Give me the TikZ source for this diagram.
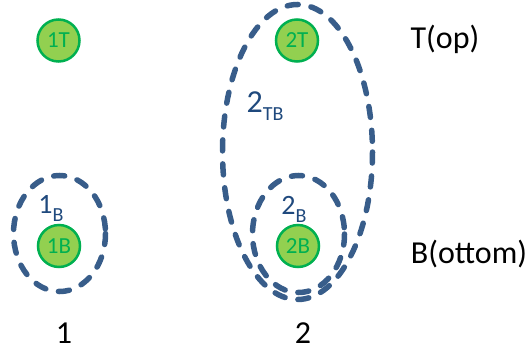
\documentclass[tikz,border=0pt]{standalone}
\usepackage{fontspec}
\setmainfont{Carlito}
\usetikzlibrary{positioning}
\definecolor{leafgreen}{HTML}{92D050}
\definecolor{rimgreen}{HTML}{00B050}
\definecolor{grpblue}{HTML}{385D8A}
\definecolor{labblue}{HTML}{1F497D}
\newcommand{\bigfont}{\fontsize{32}{36}\selectfont}
\newcommand{\subfont}{\fontsize{28}{30}\selectfont}
\newcommand{\lowsub}[1]{\raisebox{-8pt}{\fontsize{20}{22}\selectfont #1}}

\begin{document}
\begin{tikzpicture}[x=1pt,y=-1pt,
    vertex/.style={circle,fill=leafgreen,draw=rimgreen,line width=2.5pt,minimum size=42pt,inner sep=0pt,text=rimgreen,font=\fontsize{23}{26}\selectfont},
    grp/.style={draw=grpblue,line width=5.5pt,line cap=round,dash pattern=on 11pt off 13pt},
    lab/.style={anchor=base,font=\bigfont},
    grplab/.style={anchor=base,text=labblue,font=\subfont}]
  \useasboundingbox (0,0) rectangle (530,354);

  \node[vertex] (top1) at (58.5,40.5) {1T};
  \node[vertex] (bot1) at (59,246)   {1B};
  \node[vertex] (top2) at (297,40.5) {2T};
  \node[vertex] (bot2) at (298,246)  {2B};

  \draw[grp] (59.5,233.5)  ellipse [x radius=46, y radius=58];
  \draw[grp] (298.5,234)   ellipse [x radius=46, y radius=58.5];
  \draw[grp] (297.5,152)   ellipse [x radius=75, y radius=147.5];

  \node[grplab] (lab1B)  at (51,213)  {1\lowsub{B}};
  \node[grplab] (lab2B)  at (294,214) {2\lowsub{B}};
  \node[grplab,font=\bigfont] (lab2TB) at (265,112) {2\lowsub{TB}};

  \node[lab] (rowT) at (445,48)  {T(op)};
  \node[lab] (rowB) at (469,263) {B(ottom)};
  \node[lab] (col1) at (64,343)  {1};
  \node[lab] (col2) at (303,343) {2};
\end{tikzpicture}
\end{document}
